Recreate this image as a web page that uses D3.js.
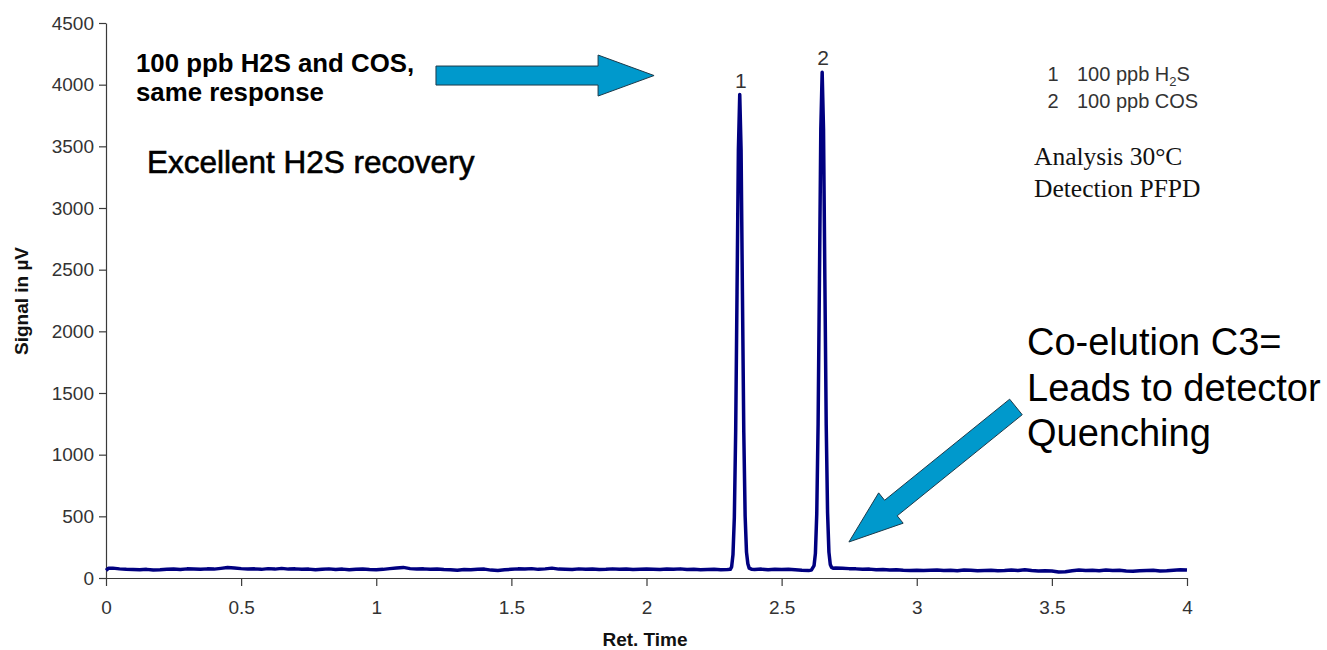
<!DOCTYPE html>
<html><head><meta charset="utf-8">
<script src="https://cdn.jsdelivr.net/npm/d3@7"></script>
<style>body{margin:0;background:#fff;} svg{display:block;font-family:Arial,"Liberation Sans",sans-serif;}</style>
</head><body>
<svg id="chart" width="1327" height="650"></svg>
<script>
// ---- data ----
const retTime = [
  0.000,0.010,0.025,0.050,0.075,0.100,0.125,0.150,0.175,0.200,0.225,0.250,0.275,0.300,0.325,0.350,0.375,0.400,0.425,0.450,0.475,
  0.500,0.525,0.550,0.575,0.600,0.625,0.650,0.675,0.700,0.725,0.750,0.775,0.800,0.825,0.850,0.875,0.900,0.925,0.950,0.975,
  1.000,1.025,1.050,1.075,1.100,1.125,1.150,1.175,1.200,1.225,1.250,1.275,1.300,1.325,1.350,1.375,1.400,1.425,1.450,1.475,
  1.500,1.525,1.550,1.575,1.600,1.625,1.650,1.675,1.700,1.725,1.750,1.775,1.800,1.825,1.850,1.875,1.900,1.925,1.950,1.975,
  2.000,2.025,2.050,2.075,2.100,2.125,2.150,2.175,2.200,2.225,2.250,2.275,2.300,2.310,
  2.315,2.320,2.325,2.330,2.335,2.340,2.345,2.350,2.355,2.360,2.365,2.370,2.375,2.380,
  2.390,2.400,2.425,2.450,2.475,2.500,2.525,2.550,2.575,2.600,2.610,
  2.620,2.625,2.630,2.635,2.640,2.645,2.650,2.655,2.660,2.665,2.670,2.675,2.680,2.685,
  2.690,2.700,2.725,2.750,2.775,2.800,2.825,2.850,2.875,2.900,2.925,2.950,2.975,
  3.000,3.025,3.050,3.075,3.100,3.125,3.150,3.175,3.200,3.225,3.250,3.275,3.300,3.325,3.350,3.375,3.400,3.425,3.450,3.475,
  3.500,3.525,3.550,3.575,3.600,3.625,3.650,3.675,3.700,3.725,3.750,3.775,3.800,3.825,3.850,3.875,3.900,3.925,3.950,3.975,4.000
];
const signal = [
  62,80,80,74,70,68,66,70,64,66,70,72,68,74,72,70,74,72,78,85,82,
  76,72,74,70,76,72,78,72,74,70,72,66,70,74,68,72,66,70,72,68,
  66,70,76,82,86,76,72,74,70,72,68,66,62,68,66,70,72,64,60,66,
  70,74,72,76,70,74,80,72,70,68,74,70,72,68,70,74,70,72,68,70,
  72,70,68,72,70,74,68,70,66,68,70,66,68,70,
  90,190,490,1190,2320,3470,3920,3470,2300,1180,500,210,115,80,
  70,68,72,66,70,68,70,66,62,60,64,
  100,200,520,1250,2430,3640,4100,3640,2420,1240,530,210,110,85,
  80,82,80,76,74,70,72,66,68,64,66,62,60,
  62,60,62,64,60,62,58,64,62,58,60,62,58,60,64,60,66,60,56,58,
  56,48,50,58,64,60,62,58,64,60,62,56,54,58,60,62,56,58,62,66,64
];
const xTicks = [0,0.5,1,1.5,2,2.5,3,3.5,4];
const xTickLabels = ["0","0.5","1","1.5","2","2.5","3","3.5","4"];
const yTicks = [0,500,1000,1500,2000,2500,3000,3500,4000,4500];
const yTickLabels = ["0","500","1000","1500","2000","2500","3000","3500","4000","4500"];
const peakIds = ["1","2"];
const peakTimes = [2.345, 2.650];
const peakTops = [3920, 4100];
const legendNums = ["1","2"];
const legendCompounds = [["100 ppb H","2","S"],["100 ppb COS","",""]];

// ---- layout ----
const svg = d3.select("#chart");
const mLeft = 106, mRight = 1187, mTop = 23, mBottom = 578;
const x = d3.scaleLinear().domain([0,4]).range([mLeft,mRight]);
const y = d3.scaleLinear().domain([0,4500]).range([mBottom,mTop]);

// axes
const xAxis = svg.append("g").attr("transform",`translate(0,${mBottom})`)
  .call(d3.axisBottom(x).tickValues(xTicks).tickFormat((d,i)=>xTickLabels[i]).tickSize(8).tickSizeOuter(0).tickPadding(15));
const yAxis = svg.append("g").attr("transform",`translate(${mLeft},0)`)
  .call(d3.axisLeft(y).tickValues(yTicks).tickFormat((d,i)=>yTickLabels[i]).tickSize(7).tickSizeOuter(0).tickPadding(5));
[xAxis,yAxis].forEach(g=>{
  g.selectAll("path,line").attr("stroke","#3a3a3a").attr("stroke-width",1.2);
  g.selectAll("text").attr("font-size",19).attr("fill","#333").attr("font-family","Arial,'Liberation Sans',sans-serif");
});

// axis titles
svg.append("text").attr("x",645).attr("y",646).attr("text-anchor","middle")
  .attr("font-size",19).attr("font-weight","bold").attr("fill","#111").text("Ret. Time");
svg.append("text").attr("transform","translate(28,301) rotate(-90)").attr("text-anchor","middle")
  .attr("font-size",19).attr("font-weight","bold").attr("fill","#111").text("Signal in µV");

// trace
const pts = retTime.map((t,i)=>[t,signal[i]]);
svg.append("path").datum(pts)
  .attr("fill","none").attr("stroke","#000080").attr("stroke-width",3.5).attr("stroke-linejoin","round")
  .attr("d", d3.line().x(d=>x(d[0])).y(d=>y(d[1])));

// peak labels
svg.selectAll(".pk").data(peakIds).join("text")
  .attr("x",(d,i)=>x(peakTimes[i])+1).attr("y",(d,i)=>y(peakTops[i])-7)
  .attr("text-anchor","middle").attr("font-size",21).attr("fill","#333").text(d=>d);

// legend
const lg = svg.append("g");
legendNums.forEach((n,i)=>{
  const yy = 81 + i*26.5;
  lg.append("text").attr("x",1053).attr("y",yy).attr("text-anchor","middle").attr("font-size",20).attr("fill","#333").text(n);
  const t = lg.append("text").attr("x",1077).attr("y",yy).attr("font-size",20).attr("fill","#333");
  const c = legendCompounds[i];
  t.append("tspan").text(c[0]);
  if (c[1]) {
    t.append("tspan").attr("font-size",13).attr("dy",5).text(c[1]);
    t.append("tspan").attr("dy",-5).text(c[2]);
  }
});
svg.append("text").attr("x",1034).attr("y",165).attr("font-family","'Liberation Serif','Times New Roman',serif")
  .attr("font-size",25.5).attr("fill","#111").text("Analysis 30°C");
svg.append("text").attr("x",1034).attr("y",197).attr("font-family","'Liberation Serif','Times New Roman',serif")
  .attr("font-size",25.5).attr("fill","#111").text("Detection PFPD");

// annotations
svg.append("text").attr("x",136).attr("y",72).attr("font-size",25.8).attr("font-weight","bold").attr("fill","#000").text("100 ppb H2S and COS,");
svg.append("text").attr("x",136).attr("y",101).attr("font-size",25.8).attr("font-weight","bold").attr("fill","#000").text("same response");
svg.append("text").attr("x",147).attr("y",173).attr("font-size",31.5).attr("fill","#000").attr("stroke","#000").attr("stroke-width",0.6).text("Excellent H2S recovery");
["Co-elution C3=","Leads to detector","Quenching"].forEach((s,i)=>{
  svg.append("text").attr("x",1027).attr("y",355+i*45.5).attr("font-size",38).attr("fill","#000").text(s);
});

// arrows (block arrows, placed in data coordinates)
function blockArrow(t0, t1, shaftW, headW, headL){
  const ax = x(t0[0]), ay = y(t0[1]), bx = x(t1[0]), by = y(t1[1]);
  const L = Math.hypot(bx-ax, by-ay), ux = (bx-ax)/L, uy = (by-ay)/L, nx = -uy, ny = ux;
  const hx = bx-ux*headL, hy = by-uy*headL, s = shaftW/2, h = headW/2;
  const p = [[ax+nx*s,ay+ny*s],[hx+nx*s,hy+ny*s],[hx+nx*h,hy+ny*h],[bx,by],[hx-nx*h,hy-ny*h],[hx-nx*s,hy-ny*s],[ax-nx*s,ay-ny*s]];
  return "M"+p.map(q=>q.join(",")).join("L")+"Z";
}
svg.append("path").attr("d",blockArrow([1.221,4074],[2.028,4074],19,41,56))
  .attr("fill","#0099cc").attr("stroke","#1d3a4a").attr("stroke-width",1);
svg.append("path").attr("d",blockArrow([3.367,1387],[2.749,292],20,39,54))
  .attr("fill","#0099cc").attr("stroke","#1d3a4a").attr("stroke-width",1);
</script>
</body></html>
